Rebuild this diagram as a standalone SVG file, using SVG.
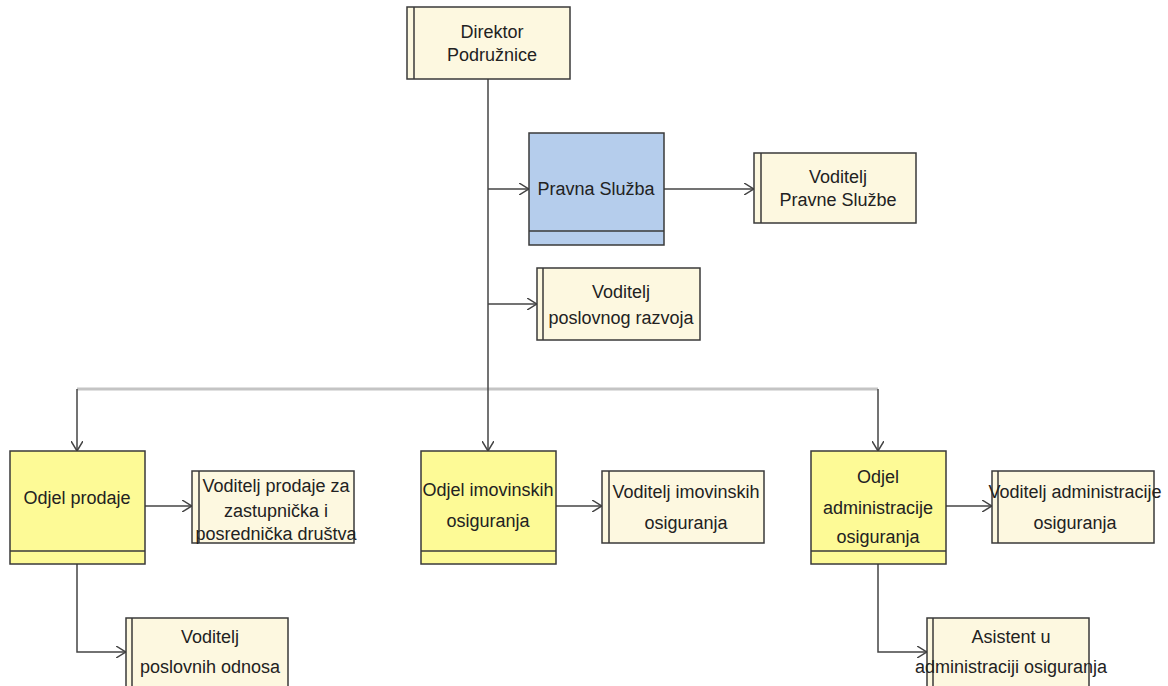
<svg xmlns="http://www.w3.org/2000/svg" width="1168" height="686" viewBox="0 0 1168 686">
<style>
.box{stroke:#3a3a3a;stroke-width:1.5}
.cream{fill:#fdf8e0}
.yellow{fill:#fdfa96}
.blue{fill:#b5cdec}
.ln{fill:none;stroke:#3a3a3a;stroke-width:1.5}
.t{font-family:"Liberation Sans",Arial,sans-serif;font-size:18px;fill:#222;text-anchor:middle}
.c{fill:none;stroke:#444;stroke-width:1.5}
</style>
<defs>
<marker id="arr" viewBox="0 0 10 12" refX="10" refY="6" markerWidth="10" markerHeight="12" markerUnits="userSpaceOnUse" orient="auto">
<path d="M0,0 L10,6 L0,12" fill="none" stroke="#444" stroke-width="1.5"/>
</marker>
</defs>
<rect width="1168" height="686" fill="#fff"/>
<g id="connectors">
<path d="M77,389 H878" fill="none" stroke="#c4c4c4" stroke-width="3"/>
<path class="c" d="M488,79 V451" marker-end="url(#arr)"/>
<path class="c" d="M488,189 H529" marker-end="url(#arr)"/>
<path class="c" d="M664,189 H754" marker-end="url(#arr)"/>
<path class="c" d="M488,304 H537" marker-end="url(#arr)"/>
<path class="c" d="M77,389 V451" marker-end="url(#arr)"/>
<path class="c" d="M878,389 V451" marker-end="url(#arr)"/>
<path class="c" d="M145,506 H192" marker-end="url(#arr)"/>
<path class="c" d="M556,506 H602" marker-end="url(#arr)"/>
<path class="c" d="M946,506 H992" marker-end="url(#arr)"/>
<path class="c" d="M77,564 V652 H126" marker-end="url(#arr)"/>
<path class="c" d="M878,564 V652 H927" marker-end="url(#arr)"/>
</g>
<g id="direktor">
<rect class="box cream" x="407" y="7" width="163" height="72"/>
<line class="ln" x1="414" y1="7" x2="414" y2="79"/>
<text class="t" x="492" y="38">Direktor</text>
<text class="t" x="492" y="61">Podružnice</text>
</g>
<g id="pravna-sluzba">
<rect class="box blue" x="529" y="133" width="135" height="112"/>
<line class="ln" x1="529" y1="231" x2="664" y2="231"/>
<text class="t" x="596" y="195">Pravna Služba</text>
</g>
<g id="voditelj-pravne-sluzbe">
<rect class="box cream" x="754" y="153" width="162" height="70"/>
<line class="ln" x1="761" y1="153" x2="761" y2="223"/>
<text class="t" x="838" y="183">Voditelj</text>
<text class="t" x="838" y="206">Pravne Službe</text>
</g>
<g id="voditelj-poslovnog-razvoja">
<rect class="box cream" x="537" y="268" width="163" height="72"/>
<line class="ln" x1="543" y1="268" x2="543" y2="340"/>
<text class="t" x="621" y="298">Voditelj</text>
<text class="t" x="621" y="324">poslovnog razvoja</text>
</g>
<g id="odjel-prodaje">
<rect class="box yellow" x="10" y="451" width="135" height="113"/>
<line class="ln" x1="10" y1="551" x2="145" y2="551"/>
<text class="t" x="77" y="504">Odjel prodaje</text>
</g>
<g id="voditelj-prodaje">
<rect class="box cream" x="192" y="471" width="162" height="72"/>
<line class="ln" x1="199" y1="471" x2="199" y2="543"/>
<text class="t" x="276" y="492">Voditelj prodaje za</text>
<text class="t" x="276" y="517">zastupnička i</text>
<text class="t" x="276" y="540">posrednička društva</text>
</g>
<g id="odjel-imovinskih">
<rect class="box yellow" x="421" y="451" width="135" height="113"/>
<line class="ln" x1="421" y1="551" x2="556" y2="551"/>
<text class="t" x="488" y="496">Odjel imovinskih</text>
<text class="t" x="488" y="527">osiguranja</text>
</g>
<g id="voditelj-imovinskih">
<rect class="box cream" x="602" y="471" width="162" height="72"/>
<line class="ln" x1="609" y1="471" x2="609" y2="543"/>
<text class="t" x="686" y="498">Voditelj imovinskih</text>
<text class="t" x="686" y="529">osiguranja</text>
</g>
<g id="odjel-administracije">
<rect class="box yellow" x="811" y="451" width="135" height="113"/>
<line class="ln" x1="811" y1="551" x2="946" y2="551"/>
<text class="t" x="878" y="483">Odjel</text>
<text class="t" x="878" y="514">administracije</text>
<text class="t" x="878" y="543">osiguranja</text>
</g>
<g id="voditelj-administracije">
<rect class="box cream" x="992" y="471" width="162" height="72"/>
<line class="ln" x1="998" y1="471" x2="998" y2="543"/>
<text class="t" x="1075" y="498">Voditelj administracije</text>
<text class="t" x="1075" y="529">osiguranja</text>
</g>
<g id="voditelj-poslovnih-odnosa">
<rect class="box cream" x="126" y="618" width="162" height="72"/>
<line class="ln" x1="132" y1="618" x2="132" y2="690"/>
<text class="t" x="210" y="643">Voditelj</text>
<text class="t" x="210" y="673">poslovnih odnosa</text>
</g>
<g id="asistent">
<rect class="box cream" x="927" y="618" width="162" height="72"/>
<line class="ln" x1="933" y1="618" x2="933" y2="690"/>
<text class="t" x="1011" y="643">Asistent u</text>
<text class="t" x="1011" y="673">administraciji osiguranja</text>
</g>
</svg>
